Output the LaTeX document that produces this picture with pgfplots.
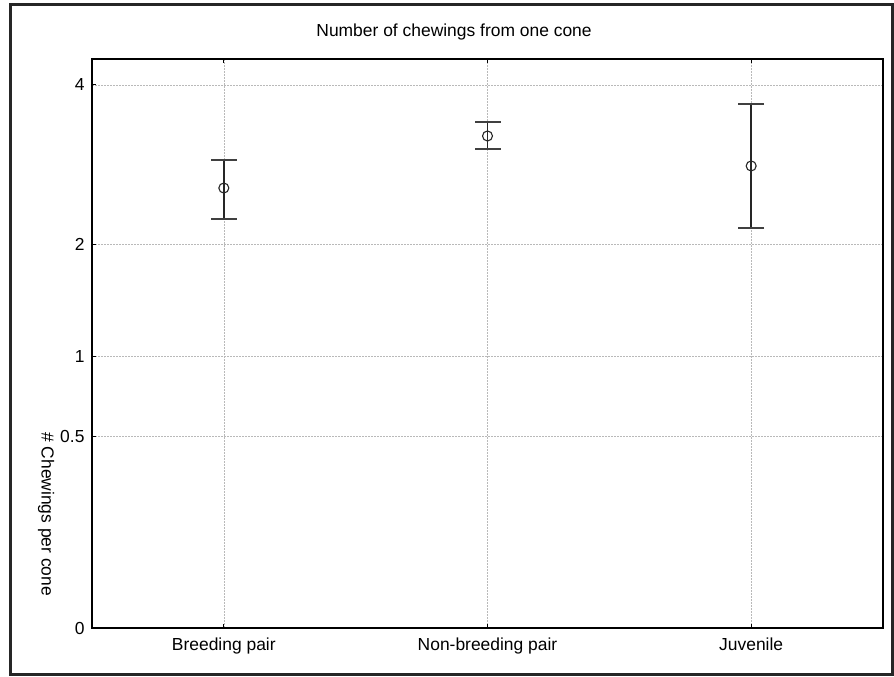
\documentclass[border=0pt]{standalone}
\usepackage{fontspec}
\setmainfont{Liberation Sans}
\usepackage{pgfplots}
\pgfplotsset{compat=1.18}
\begin{document}
\begin{tikzpicture}
\useasboundingbox (0,0) rectangle (894bp,677bp);
\draw[line width=3bp, black!85] (10bp,2bp) rectangle (892bp,672bp);
\begin{axis}[
  at={(92bp,49bp)}, anchor=south west,
  scale only axis, width=791bp, height=569bp,
  xmin=-0.5, xmax=2.5,
  y coord trafo/.code={\pgfmathparse{sqrt(#1)}},
  y coord inv trafo/.code={\pgfmathparse{(#1)^2}},
  ymin=0, ymax=4.392,
  xtick={0,1,2},
  xticklabels={Breeding pair,Non-breeding pair,Juvenile},
  ytick={0,0.5,1,2,4},
  yticklabels={0,0.5,1,2,4},
  xtick pos=both, ytick pos=left,
  tick align=inside,
  major tick length=4bp,
  every tick/.style={black, line width=1bp},
  axis line style={black, line width=1.2bp},
  grid=major,
  major grid style={gray!55, line width=0.6bp, dash pattern=on 2bp off 1bp},
  /pgf/number format/assume math mode=true,
  tick label style={font=\fontsize{17.5}{20}\selectfont},
  xticklabel style={yshift=-6bp},
  yticklabel style={xshift=-4bp},
  title={Number of chewings from one cone},
  title style={font=\fontsize{17.5}{20}\selectfont, at={(axis description cs:0.4577,1.037)}, anchor=center},
  ylabel={\# Chewings per cone},
  ylabel style={font=\fontsize{17.5}{20}\selectfont, rotate=180, at={(axis description cs:-0.058,0.2)}, anchor=center},
]
% error bars (upper / lower limits)
\addplot[black!85, line width=1.8bp, mark=-, mark size=13bp, mark options={line width=2bp, black!75}] coordinates {(0,2.269) (0,2.971)};
\addplot[black!85, line width=1.8bp, mark=-, mark size=13bp, mark options={line width=2bp, black!75}] coordinates {(1,3.113) (1,3.473)};
\addplot[black!85, line width=1.8bp, mark=-, mark size=13bp, mark options={line width=2bp, black!75}] coordinates {(2,2.171) (2,3.725)};
% means
\addplot[only marks, mark=o, mark size=5bp, mark options={fill=white, draw=black!85, line width=1.1bp}] coordinates {(0,2.626) (1,3.284) (2,2.896)};
\end{axis}
\end{tikzpicture}
\end{document}
